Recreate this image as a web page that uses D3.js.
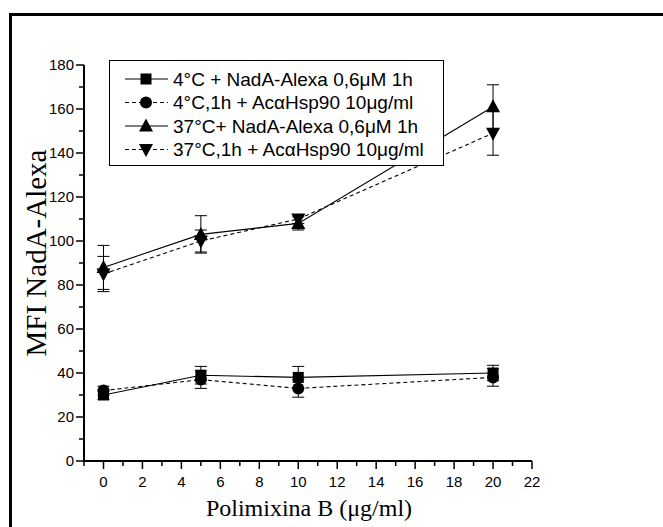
<!DOCTYPE html>
<html>
<head>
<meta charset="utf-8">
<script src="https://cdn.jsdelivr.net/npm/d3@7"></script>
<style>
  body { margin: 0; background: #fff; }
</style>
</head>
<body>
<div id="chart"></div>
<script>
// dati
var xValues = [0, 5, 10, 20]
var names = [
  "4°C + NadA-Alexa 0,6μM 1h",
  "4°C,1h + AcαHsp90 10μg/ml",
  "37°C+ NadA-Alexa 0,6μM 1h",
  "37°C,1h + AcαHsp90 10μg/ml"
]
var sq = [30, 39, 38, 40]
var sqErr = [2, 4, 5, 3.5]
var circ = [32, 37, 33, 38]
var circErr = [2, 4, 4, 4]
var triUp = [88, 103, 108, 161]
var triUpErr = [10, 8.5, 3, 10]
var triDown = [85, 100, 110, 149]
var triDownErr = [8, 5, 2, 10]
var xTicks = d3.range(0, 23, 2)
var yTicks = d3.range(0, 181, 20)

var width = 663, height = 527

var svg = d3.select("#chart").append("svg")
  .attr("width", width)
  .attr("height", height)

// cornice nera (tagliata a destra e in basso)
svg.append("rect")
  .attr("x", 10.5).attr("y", 14.5)
  .attr("width", 700).attr("height", 600)
  .attr("fill", "none").attr("stroke", "#000").attr("stroke-width", 3)

var x = d3.scaleLinear().domain([-1, 22]).range([84, 532])
var y = d3.scaleLinear().domain([0, 180]).range([461, 65])

var series = [
  {name: names[0], v: sq, e: sqErr, sym: "square", dash: null},
  {name: names[1], v: circ, e: circErr, sym: "circle", dash: "4,3"},
  {name: names[2], v: triUp, e: triUpErr, sym: "up", dash: null},
  {name: names[3], v: triDown, e: triDownErr, sym: "down", dash: "4,3"}
]

function drawSymbol(g, sym, cx, cy) {
  if (sym == "square") {
    g.append("rect").attr("x", cx - 5.5).attr("y", cy - 5.5).attr("width", 11).attr("height", 11).attr("fill", "#000")
  } else if (sym == "circle") {
    g.append("circle").attr("cx", cx).attr("cy", cy).attr("r", 6).attr("fill", "#000")
  } else if (sym == "up") {
    g.append("path").attr("d", "M" + cx + "," + (cy - 7.5) + "L" + (cx + 7) + "," + (cy + 5.5) + "L" + (cx - 7) + "," + (cy + 5.5) + "Z").attr("fill", "#000")
  } else {
    g.append("path").attr("d", "M" + cx + "," + (cy + 7.5) + "L" + (cx + 7) + "," + (cy - 5.5) + "L" + (cx - 7) + "," + (cy - 5.5) + "Z").attr("fill", "#000")
  }
}

// assi
var yAxis = svg.append("g").attr("transform", "translate(84,0)")
yAxis.append("line").attr("x1", 0).attr("x2", 0).attr("y1", y(0)).attr("y2", y(180)).attr("stroke", "#000").attr("stroke-width", 2)
d3.range(0, 181, 10).forEach(function(t) {
  var major = t % 20 == 0
  yAxis.append("line").attr("x1", major ? -8 : -5).attr("x2", 0).attr("y1", y(t)).attr("y2", y(t)).attr("stroke", "#000").attr("stroke-width", 1.5)
})
yAxis.selectAll("text.tick").data(yTicks).enter().append("text")
  .attr("x", -10).attr("y", function(d) { return y(d) }).attr("dy", "0.36em")
  .attr("text-anchor", "end")
  .style("font-family", "Liberation Sans, Arial").style("font-size", "15px")
  .text(function(d) { return d })

var xAxis = svg.append("g").attr("transform", "translate(0,461)")
xAxis.append("line").attr("x1", x(-1)).attr("x2", x(22)).attr("y1", 0).attr("y2", 0).attr("stroke", "#000").attr("stroke-width", 2)
d3.range(-1, 23, 1).forEach(function(t) {
  var major = t % 2 == 0
  xAxis.append("line").attr("x1", x(t)).attr("x2", x(t)).attr("y1", 0).attr("y2", major ? 8 : 5).attr("stroke", "#000").attr("stroke-width", 1.5)
})
xAxis.selectAll("text.tick").data(xTicks).enter().append("text")
  .attr("x", function(d) { return x(d) }).attr("y", 26)
  .attr("text-anchor", "middle")
  .style("font-family", "Liberation Sans, Arial").style("font-size", "15px")
  .text(function(d) { return d })

// titoli
svg.append("text")
  .attr("transform", "translate(46,253) rotate(-90)")
  .attr("text-anchor", "middle")
  .style("font-family", "Liberation Serif, Times New Roman").style("font-size", "29px")
  .text("MFI NadA-Alexa")
svg.append("text")
  .attr("x", 309).attr("y", 516)
  .attr("text-anchor", "middle")
  .style("font-family", "Liberation Serif, Times New Roman").style("font-size", "24px")
  .text("Polimixina B (μg/ml)")

// serie
var line = d3.line().x(function(d) { return x(d[0]) }).y(function(d) { return y(d[1]) })
series.forEach(function(s) {
  var pts = xValues.map(function(xv, i) { return [xv, s.v[i]] })
  svg.append("path").attr("d", line(pts)).attr("fill", "none").attr("stroke", "#000")
    .attr("stroke-width", 1.1).attr("stroke-dasharray", s.dash)
  var g = svg.append("g")
  xValues.forEach(function(xv, i) {
    var cx = x(xv)
    var top = y(s.v[i] + s.e[i]), bot = y(s.v[i] - s.e[i])
    g.append("line").attr("x1", cx).attr("x2", cx).attr("y1", top).attr("y2", bot).attr("stroke", "#000").attr("stroke-width", 1)
    g.append("line").attr("x1", cx - 6).attr("x2", cx + 6).attr("y1", top).attr("y2", top).attr("stroke", "#000").attr("stroke-width", 1)
    g.append("line").attr("x1", cx - 6).attr("x2", cx + 6).attr("y1", bot).attr("y2", bot).attr("stroke", "#000").attr("stroke-width", 1)
    drawSymbol(g, s.sym, cx, y(s.v[i]))
  })
})

// legenda
var legend = svg.append("g")
legend.append("rect").attr("x", 109.5).attr("y", 60.5).attr("width", 334).attr("height", 105)
  .attr("fill", "#fff").attr("stroke", "#000").attr("stroke-width", 1)
series.forEach(function(s, i) {
  var ly = 79 + i * 23.5
  legend.append("line").attr("x1", 125).attr("x2", 168).attr("y1", ly).attr("y2", ly)
    .attr("stroke", "#000").attr("stroke-width", 1.1).attr("stroke-dasharray", s.dash)
  drawSymbol(legend, s.sym, 146, ly)
  legend.append("text").attr("x", 173).attr("y", ly).attr("dy", "0.36em")
    .style("font-family", "Liberation Sans, Arial").style("font-size", "19px")
    .text(s.name)
})
</script>
</body>
</html>
